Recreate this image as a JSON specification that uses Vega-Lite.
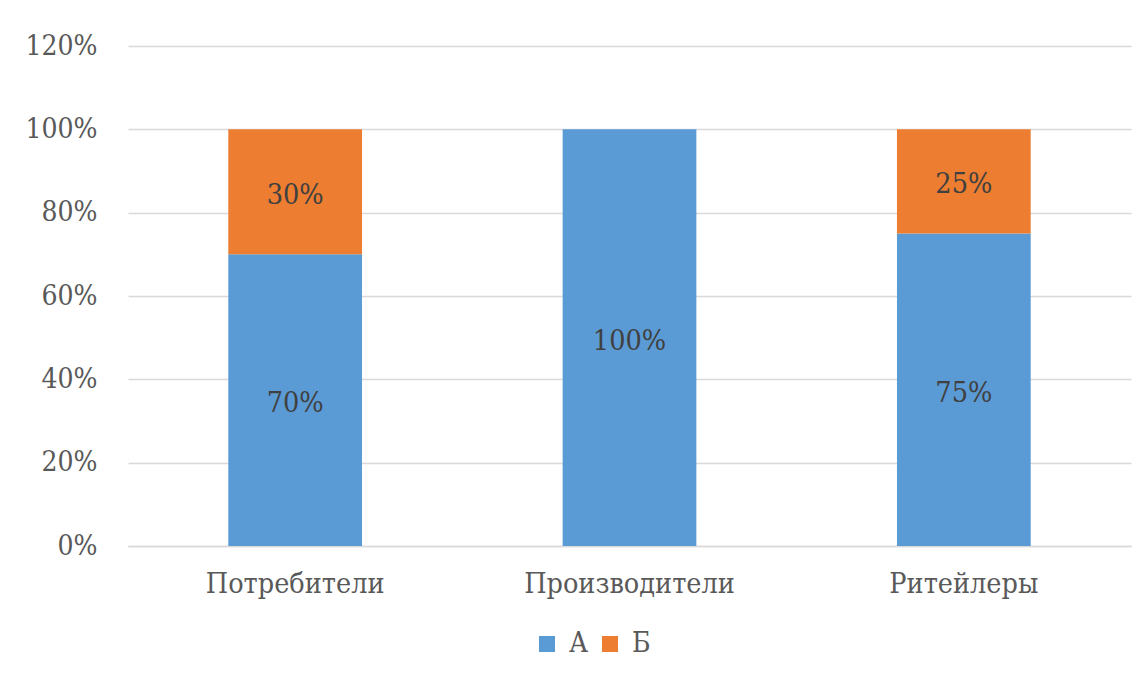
{
  "$schema": "https://vega.github.io/schema/vega-lite/v6.json",
  "autosize": {"type": "none"},
  "width": 1003,
  "height": 500,
  "padding": {"left": 128, "top": 46, "right": 16, "bottom": 133},
  "background": "white",
  "config": {
    "view": {"stroke": null}
  },
  "data": {
    "values": [
      {"category": "Потребители", "series": "А", "value": 0.70},
      {"category": "Потребители", "series": "Б", "value": 0.30},
      {"category": "Производители", "series": "А", "value": 1.00},
      {"category": "Ритейлеры", "series": "А", "value": 0.75},
      {"category": "Ритейлеры", "series": "Б", "value": 0.25}
    ]
  },
  "encoding": {
    "x": {
      "field": "category",
      "type": "nominal",
      "sort": ["Потребители", "Производители", "Ритейлеры"],
      "scale": {"paddingInner": 0.6, "paddingOuter": 0.3},
      "axis": {
        "title": null,
        "labelAngle": 0,
        "labelFont": "DejaVu Serif Condensed",
        "labelFontSize": 28.5,
        "labelLimit": 0,
        "labelColor": "#595959",
        "labelPadding": 23,
        "ticks": false,
        "domainColor": "#d9d9d9",
        "domainWidth": 1.5
      }
    },
    "order": {"field": "series", "type": "nominal", "sort": "ascending"}
  },
  "layer": [
    {
      "mark": {"type": "bar"},
      "encoding": {
        "y": {
          "field": "value",
          "type": "quantitative",
          "stack": "zero",
          "scale": {"domain": [0, 1.2]},
          "axis": {
            "title": null,
            "format": ".0%",
            "values": [0, 0.2, 0.4, 0.6, 0.8, 1.0, 1.2],
            "labelFont": "DejaVu Serif Condensed",
            "labelFontSize": 28,
            "labelColor": "#595959",
            "labelPadding": 31,
            "ticks": false,
            "domain": false,
            "gridColor": "#d9d9d9",
            "gridWidth": 1.5
          }
        },
        "color": {
          "field": "series",
          "type": "nominal",
          "scale": {"domain": ["А", "Б"], "range": ["#5B9BD5", "#ED7D31"]},
          "legend": {
            "title": null,
            "orient": "none",
            "legendX": 405,
            "legendY": 584,
            "direction": "horizontal",
            "symbolType": "square",
            "symbolSize": 256,
            "symbolStrokeWidth": 0,
            "labelFont": "DejaVu Serif Condensed",
            "labelFontSize": 28,
            "labelColor": "#595959",
            "columnPadding": 7,
            "labelOffset": 8
          }
        }
      }
    },
    {
      "mark": {"type": "text", "font": "DejaVu Serif Condensed", "fontSize": 28.5, "color": "#404040", "baseline": "middle", "dy": 3},
      "encoding": {
        "y": {"field": "value", "type": "quantitative", "stack": "zero", "bandPosition": 0.5},
        "detail": {"field": "series"},
        "text": {"field": "value", "type": "quantitative", "format": ".0%"}
      }
    }
  ]
}
